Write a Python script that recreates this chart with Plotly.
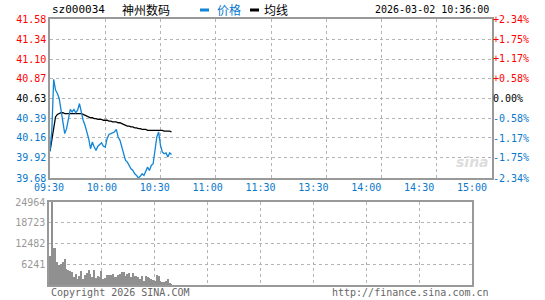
import plotly.graph_objects as go

W, H = 545, 300

# ---------------- data ----------------
code = "sz000034"
name = "神州数码"
stamp = "2026-03-02 10:36:00"
prev_close = 40.63

prices = [40.00, 40.25, 40.86, 40.73, 40.69, 40.63, 40.49, 40.33, 40.21, 40.27,
          40.39, 40.50, 40.47, 40.50, 40.46, 40.49, 40.57, 40.45, 40.37, 40.31,
          40.23, 40.15, 40.03, 40.11, 40.05, 40.01, 40.06, 40.08, 40.10, 40.06,
          40.05, 40.15, 40.20, 40.21, 40.22, 40.23, 40.26, 40.17, 40.13, 40.05,
          39.95, 39.89, 39.87, 39.83, 39.79, 39.77, 39.73, 39.71, 39.68, 39.70,
          39.73, 39.71, 39.77, 39.81, 39.77, 39.83, 39.85, 40.01, 40.17, 40.23,
          40.07, 39.99, 39.97, 39.98, 39.93, 39.98, 39.96]

avg = [40.00, 40.13, 40.31, 40.41, 40.44, 40.45, 40.46, 40.46, 40.45, 40.45,
       40.45, 40.45, 40.45, 40.45, 40.45, 40.45, 40.45, 40.45, 40.44, 40.43,
       40.42, 40.41, 40.40, 40.40, 40.39, 40.39, 40.38, 40.38, 40.38, 40.37,
       40.37, 40.37, 40.36, 40.36, 40.35, 40.35, 40.35, 40.34, 40.34, 40.33,
       40.32, 40.31, 40.30, 40.30, 40.29, 40.29, 40.28, 40.28, 40.27, 40.27,
       40.26, 40.26, 40.26, 40.25, 40.25, 40.25, 40.25, 40.25, 40.25, 40.25,
       40.25, 40.25, 40.24, 40.24, 40.24, 40.24, 40.23]

volumes = [8800, 24964, 11000, 11200, 6800, 6100, 6400, 6800, 7900, 4900,
           4600, 4100, 3800, 2400, 3300, 1900, 2600, 4300, 1800, 3100,
           3600, 4400, 3400, 2400, 4500, 2100, 2800, 2300, 4200, 1800,
           2000, 3000, 3000, 3000, 3400, 2500, 2400, 2900, 3300, 4000,
           4000, 2600, 3200, 3600, 2300, 3600, 2600, 2600, 2500, 1800,
           2600, 1300, 2700, 2400, 2200, 1800, 1600, 1300, 2900, 2600,
           1300, 1000, 1000, 1100, 1800, 700, 300]

price_ticks = [39.68, 39.92, 40.16, 40.39, 40.63, 40.87, 41.10, 41.34, 41.58]
pct_ticks = [-2.34, -1.75, -1.17, -0.58, 0.00, 0.58, 1.17, 1.75, 2.34]
vol_ticks = [6241, 12482, 18723, 24964]
time_ticks = [0, 30, 60, 90, 120, 150, 180, 210, 240]
time_labels = ["09:30", "10:00", "10:30", "11:00", "11:30", "13:30", "14:00", "14:30", "15:00"]

# ---------------- style ----------------
RED = "#ff0000"
BLUE = "#0a78cc"
LINE_BLUE = "#1185d6"
GRAY = "#999999"
GRID = "#b4b4b4"
MONO = "DejaVu Sans Mono"


def py(p):
    return 1 - p / H


def px(p):
    return p / W


def col(v, ref):
    if v > ref + 1e-9:
        return RED
    if v < ref - 1e-9:
        return BLUE
    return "#000000"


left_text = [f"<span style='color:{col(v, prev_close)}'>{v:.2f}</span>" for v in price_ticks]
right_text = []
for v in pct_ticks:
    s = f"{v:+.2f}%" if v != 0 else "0.00%"
    right_text.append(f"<span style='color:{col(v, 0)}'>{s}</span>")

minutes = list(range(len(prices)))
pct = [(p - prev_close) / prev_close * 100 for p in prices]

fig = go.Figure()

fig.add_trace(go.Scatter(x=minutes, y=avg, mode="lines", line=dict(color="#000000", width=1.3),
                         xaxis="x", yaxis="y", showlegend=False, hoverinfo="skip"))
fig.add_trace(go.Scatter(x=minutes, y=prices, mode="lines", line=dict(color=LINE_BLUE, width=1.3),
                         xaxis="x", yaxis="y", showlegend=False, hoverinfo="skip"))
fig.add_trace(go.Scatter(x=minutes, y=pct, mode="lines", opacity=0, line=dict(width=0),
                         xaxis="x", yaxis="y3", showlegend=False, hoverinfo="skip"))
fig.add_trace(go.Bar(x=minutes, y=volumes, width=0.55, marker=dict(color="#909090", line=dict(width=0)),
                     xaxis="x2", yaxis="y2", showlegend=False, hoverinfo="skip"))
fig.add_trace(go.Scatter(x=[0], y=[0], mode="markers", opacity=0, xaxis="x3", yaxis="y2",
                         showlegend=False, hoverinfo="skip"))

axis_font = dict(family=MONO, size=10)

fig.update_layout(
    width=W, height=H,
    margin=dict(l=0, r=0, t=0, b=0, autoexpand=False),
    paper_bgcolor="white", plot_bgcolor="white",
    bargap=0,
    xaxis=dict(domain=[px(50), px(492)], range=[0, 240], tickvals=time_ticks, showticklabels=False,
               showgrid=True, gridcolor=GRID, griddash="dot", gridwidth=1,
               showline=True, linecolor=GRAY, linewidth=1.5, mirror=True, zeroline=False,
               anchor="y", ticks="", automargin=False),
    yaxis=dict(domain=[py(178), py(19)], range=[price_ticks[0], price_ticks[-1]],
               tickvals=price_ticks, ticktext=left_text, tickfont=axis_font,
               showgrid=True, gridcolor=GRID, griddash="dot", gridwidth=1,
               showline=True, linecolor=GRAY, linewidth=1.5, mirror=True, zeroline=False,
               anchor="x", ticks="", automargin=False),
    yaxis3=dict(overlaying="y", side="right", anchor="x", range=[pct_ticks[0], pct_ticks[-1]],
                tickvals=pct_ticks, ticktext=right_text, tickfont=axis_font,
                showgrid=False, zeroline=False, showline=False, ticks="", automargin=False),
    xaxis2=dict(domain=[px(49), px(472)], range=[-0.5, 240 * 423 / 442 - 0.5], anchor="y2",
                showgrid=False, showticklabels=False, zeroline=False,
                showline=True, linecolor=GRAY, linewidth=1.5, mirror=True, ticks="", automargin=False),
    xaxis3=dict(overlaying="x2", anchor="y2", side="top", range=[0, 240], tickvals=time_ticks,
                ticktext=time_labels, tickfont=dict(family=MONO, size=10, color=BLUE),
                showgrid=True, gridcolor=GRID, griddash="dot", gridwidth=1,
                zeroline=False, showline=False, ticks="outside", ticklen=6,
                tickcolor="rgba(0,0,0,0)", automargin=False),
    yaxis2=dict(domain=[py(285), py(202)], range=[0, vol_ticks[-1]], anchor="x2",
                tickvals=vol_ticks, tickformat="d", tickfont=dict(family=MONO, size=10, color=GRAY),
                showgrid=True, gridcolor=GRID, griddash="dot", gridwidth=1,
                showline=True, linecolor=GRAY, linewidth=1.5, mirror=True, zeroline=False, ticks="",
                automargin=False),
)

# previous close reference line
fig.add_shape(type="line", xref="x", yref="y", x0=0, x1=240, y0=prev_close, y1=prev_close,
              line=dict(color="#000000", width=1, dash="3px,3px"), layer="below")

# header
ann = [
    dict(text=code, x=px(50), y=py(10), xanchor="left", font=dict(family=MONO, size=11, color="#000")),
    dict(text=name, x=px(120), y=py(10), xanchor="left", font=dict(family="Noto Sans CJK SC", size=12, color="#000")),
    dict(text="价格", x=px(215), y=py(10), xanchor="left", font=dict(family="Noto Sans CJK SC", size=12, color=BLUE)),
    dict(text="均线", x=px(262), y=py(10), xanchor="left", font=dict(family="Noto Sans CJK SC", size=12, color="#000")),
    dict(text=stamp, x=px(491), y=py(10), xanchor="right", font=dict(family=MONO, size=10, color="#000")),
    dict(text="Copyright 2026 SINA.COM", x=px(49), y=py(292), xanchor="left",
         font=dict(family=MONO, size=10, color="#666")),
    dict(text="http://finance.sina.com.cn", x=px(491), y=py(292), xanchor="right",
         font=dict(family=MONO, size=10, color="#666")),
    dict(text="<b><i>sina</i></b>", x=px(472), y=py(162), xanchor="center",
         font=dict(family="DejaVu Sans", size=14, color="#dddddd")),
]
for a in ann:
    a.update(xref="paper", yref="paper", yanchor="middle", showarrow=False)
    fig.add_annotation(**a)

fig.add_shape(type="line", xref="paper", yref="paper", x0=px(200), x1=px(209), y0=py(10), y1=py(10),
              line=dict(color=LINE_BLUE, width=3))
fig.add_shape(type="line", xref="paper", yref="paper", x0=px(250), x1=px(259), y0=py(10), y1=py(10),
              line=dict(color="#000", width=3))

fig.write_html("out.html")
